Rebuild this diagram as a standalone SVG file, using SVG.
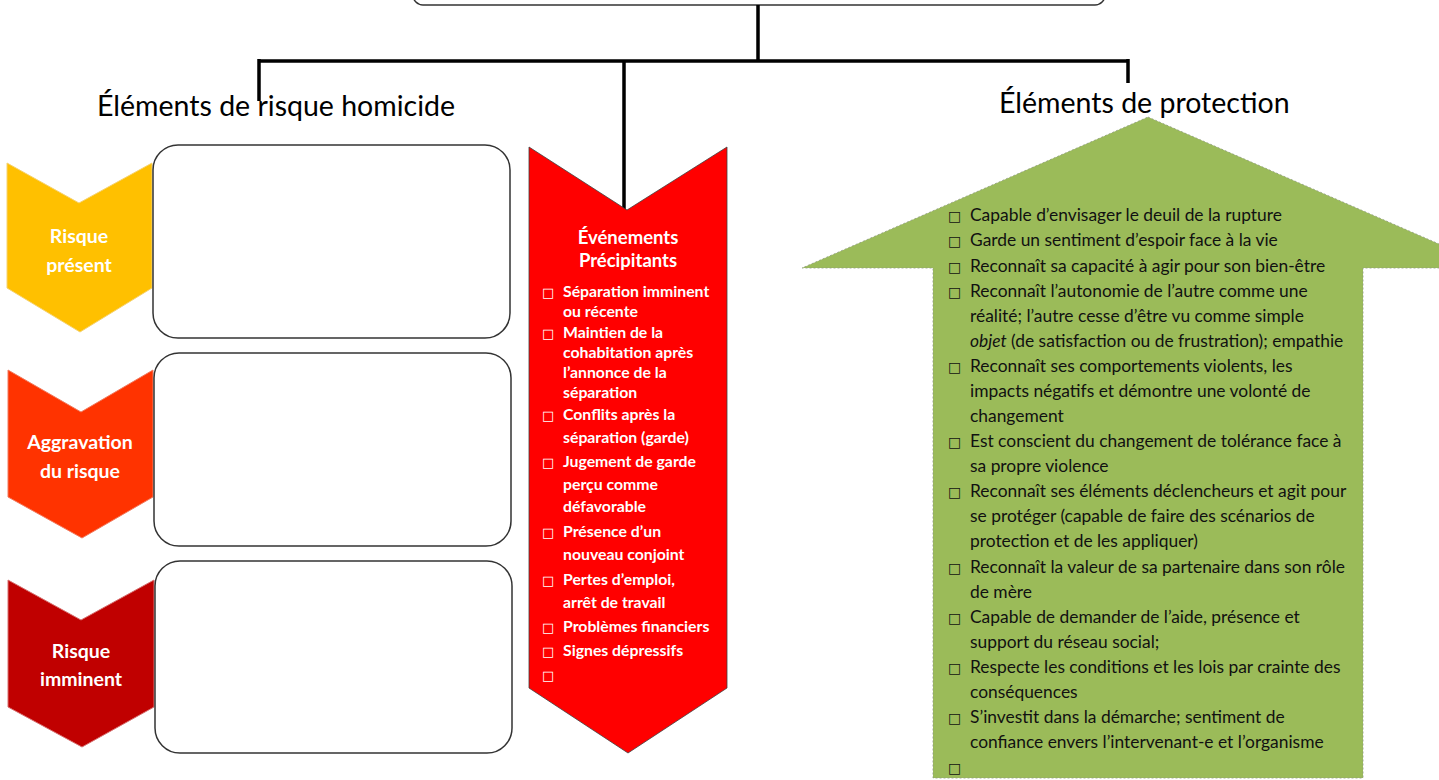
<svg xmlns="http://www.w3.org/2000/svg" width="1439" height="780" viewBox="0 0 1439 780">
<style>
.title{font-family:Lato,"Liberation Sans",sans-serif;font-size:28.5px;fill:#000}
.chev{font-family:Lato,"Liberation Sans",sans-serif;font-size:19.5px;font-weight:bold;fill:#fff;text-anchor:middle}
.red{font-family:Lato,"Liberation Sans",sans-serif;font-size:15.8px;font-weight:bold;fill:#fff}
.redh{font-family:Lato,"Liberation Sans",sans-serif;font-size:18.5px;font-weight:bold;fill:#fff;text-anchor:middle}
.grn{font-family:Lato,"Liberation Sans",sans-serif;font-size:17.4px;fill:#111}
.box{fill:#fff;stroke:#333;stroke-width:1.5}
.conn{stroke:#000;stroke-width:3.5;fill:none}
.cb{font-family:"DejaVu Sans",sans-serif;font-weight:normal}
</style>
<g id="top-box"><rect x="413" y="-40" width="692" height="45" rx="10" class="box"/></g>
<g id="connectors">
<path class="conn" d="M758 5 V61 M259 61 H1129 M259 59 V101 M624 61 V210 M1128 59 V83"/>
</g>
<g id="title-risque"><text class="title" x="97" y="116">Éléments de risque homicide</text></g>
<g id="title-protection"><text class="title" x="999" y="113">Éléments de protection</text></g>

<g id="risque-present">
<polygon points="7,163 79,203 152,163 152,288 80,332 7,288" fill="#FFC000" stroke="#F5D270" stroke-width="1"/>
<text class="chev" x="79" y="243">Risque</text>
<text class="chev" x="79" y="272">présent</text>
</g>
<g id="box-1"><rect x="153" y="145" width="357" height="193" rx="25" class="box"/></g>

<g id="aggravation">
<polygon points="8,370 81,412 153,370 153,497 82,538 8,497" fill="#FF3300" stroke="#F07B60" stroke-width="1"/>
<text class="chev" x="80" y="449">Aggravation</text>
<text class="chev" x="80" y="478">du risque</text>
</g>
<g id="box-2"><rect x="154" y="353" width="357" height="193" rx="25" class="box"/></g>

<g id="risque-imminent">
<polygon points="8,580 81,620 154,580 154,707 82,747 8,707" fill="#C00000" stroke="#D67070" stroke-width="1"/>
<text class="chev" x="81" y="658">Risque</text>
<text class="chev" x="81" y="686">imminent</text>
</g>
<g id="box-3"><rect x="155" y="561" width="357" height="192" rx="25" class="box"/></g>

<g id="evenements">
<polygon points="529,147 627,210 727,147 727,688 628,753 529,688" fill="#FF0000" stroke="#404040" stroke-width="0.8"/>
<text class="redh" x="628" y="244">Événements</text>
<text class="redh" x="628" y="267">Précipitants</text>
<g class="red">
<text x="542" y="297"><tspan class="cb" font-size="13">□</tspan></text><text x="563" y="297">Séparation imminent</text>
<text x="563" y="317">ou récente</text>
<text x="542" y="338"><tspan class="cb" font-size="13">□</tspan></text><text x="563" y="338">Maintien de la</text>
<text x="563" y="358">cohabitation après</text>
<text x="563" y="378">l’annonce de la</text>
<text x="563" y="398">séparation</text>
<text x="542" y="420"><tspan class="cb" font-size="13">□</tspan></text><text x="563" y="420">Conflits après la</text>
<text x="563" y="443">séparation (garde)</text>
<text x="542" y="467"><tspan class="cb" font-size="13">□</tspan></text><text x="563" y="467">Jugement de garde</text>
<text x="563" y="490">perçu comme</text>
<text x="563" y="512">défavorable</text>
<text x="542" y="537"><tspan class="cb" font-size="13">□</tspan></text><text x="563" y="537">Présence d’un</text>
<text x="563" y="560">nouveau conjoint</text>
<text x="542" y="585"><tspan class="cb" font-size="13">□</tspan></text><text x="563" y="585">Pertes d’emploi,</text>
<text x="563" y="608">arrêt de travail</text>
<text x="542" y="632"><tspan class="cb" font-size="13">□</tspan></text><text x="563" y="632">Problèmes financiers</text>
<text x="542" y="656"><tspan class="cb" font-size="13">□</tspan></text><text x="563" y="656">Signes dépressifs</text>
<text x="542" y="680"><tspan class="cb" font-size="13">□</tspan></text>
</g>
</g>

<g id="protection">
<polygon points="1148,117 1494,268 1363,268 1363,778 933,778 933,268 802,268" fill="#9BBB59" stroke="#8E9A80" stroke-width="0.8" stroke-dasharray="2,2"/>
<g class="grn">
<text x="948" y="221"><tspan class="cb" font-size="14">□</tspan></text><text x="970" y="221">Capable d’envisager le deuil de la rupture</text>
<text x="948" y="246"><tspan class="cb" font-size="14">□</tspan></text><text x="970" y="246">Garde un sentiment d’espoir face à la vie</text>
<text x="948" y="272"><tspan class="cb" font-size="14">□</tspan></text><text x="970" y="272">Reconnaît sa capacité à agir pour son bien-être</text>
<text x="948" y="297"><tspan class="cb" font-size="14">□</tspan></text><text x="970" y="297">Reconnaît l’autonomie de l’autre comme une</text>
<text x="970" y="322">réalité; l’autre cesse d’être vu comme simple</text>
<text x="970" y="347"><tspan font-style="italic">objet</tspan> (de satisfaction ou de frustration); empathie</text>
<text x="948" y="372"><tspan class="cb" font-size="14">□</tspan></text><text x="970" y="372">Reconnaît ses comportements violents, les</text>
<text x="970" y="397">impacts négatifs et démontre une volonté de</text>
<text x="970" y="422">changement</text>
<text x="948" y="447"><tspan class="cb" font-size="14">□</tspan></text><text x="970" y="447">Est conscient du changement de tolérance face à</text>
<text x="970" y="472">sa propre violence</text>
<text x="948" y="497"><tspan class="cb" font-size="14">□</tspan></text><text x="970" y="497">Reconnaît ses éléments déclencheurs et agit pour</text>
<text x="970" y="522">se protéger (capable de faire des scénarios de</text>
<text x="970" y="547">protection et de les appliquer)</text>
<text x="948" y="573"><tspan class="cb" font-size="14">□</tspan></text><text x="970" y="573">Reconnaît la valeur de sa partenaire dans son rôle</text>
<text x="970" y="598">de mère</text>
<text x="948" y="623"><tspan class="cb" font-size="14">□</tspan></text><text x="970" y="623">Capable de demander de l’aide, présence et</text>
<text x="970" y="648">support du réseau social;</text>
<text x="948" y="673"><tspan class="cb" font-size="14">□</tspan></text><text x="970" y="673">Respecte les conditions et les lois par crainte des</text>
<text x="970" y="698">conséquences</text>
<text x="948" y="723"><tspan class="cb" font-size="14">□</tspan></text><text x="970" y="723">S’investit dans la démarche; sentiment de</text>
<text x="970" y="748">confiance envers l’intervenant-e et l’organisme</text>
<text x="948" y="773"><tspan class="cb" font-size="14">□</tspan></text>
</g>
</g>
</svg>
